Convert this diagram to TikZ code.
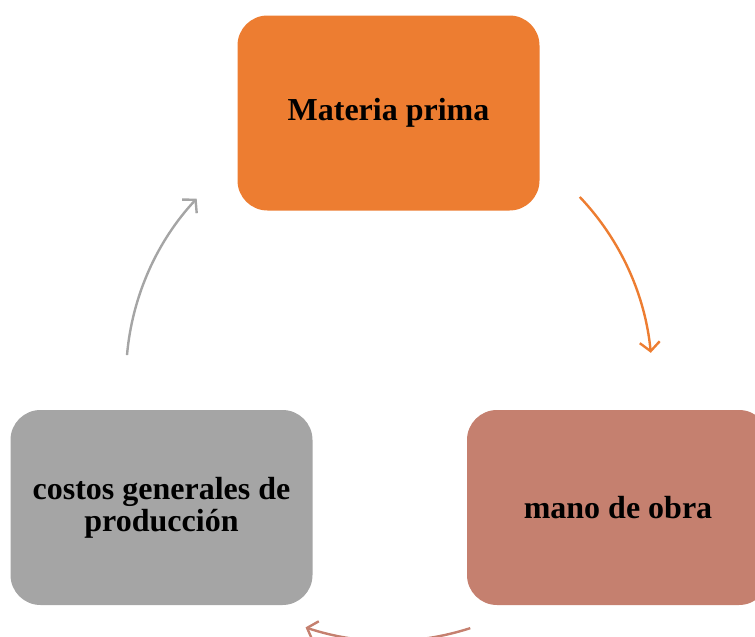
\documentclass[tikz,border=0pt]{standalone}
\usepackage{fontspec}
\setmainfont{Liberation Serif}
\usetikzlibrary{arrows.meta,calc}
\definecolor{cOrange}{HTML}{ED7D31}
\definecolor{cRose}{HTML}{C5806F}
\definecolor{cGray}{HTML}{A5A5A5}
\tikzset{
  box/.style={rounded corners=30pt, minimum width=302pt, minimum height=195pt,
    align=center, inner sep=0pt, font=\fontsize{32}{32}\selectfont\bfseries, text=black},
  cyc/.style={line width=2.4pt, -{Straight Barb[length=9pt,width=20pt,line width=2.4pt]}}
}
\begin{document}
\begin{tikzpicture}[x=1pt,y=-1pt]
\useasboundingbox (0,0) rectangle (755,637);
\clip (0,0) rectangle (755,637);
\node[box, fill=cOrange] (mp) at (388.5,113) {\raisebox{-2pt}{Materia prima}};
\node[box, fill=cRose] (mo) at (618,507.5) {\raisebox{-2pt}{mano de obra}};
\node[box, fill=cGray] (cg) at (161.5,507.5) {costos generales de\\producción};
\coordinate (O) at (389,378);
\coordinate (a1) at ($(O)+(-43.5:263)$);
\coordinate (b1) at ($(O)+(72:263)$);
\coordinate (c1) at ($(O)+(185:263)$);
\draw[cyc, cOrange] (a1) arc[start angle=-43.5, end angle=-5.5, radius=263];
\draw[cyc, cRose] (b1) arc[start angle=72, end angle=108.5, radius=263];
\draw[cyc, cGray] (c1) arc[start angle=185, end angle=223, radius=263];
\end{tikzpicture}
\end{document}
